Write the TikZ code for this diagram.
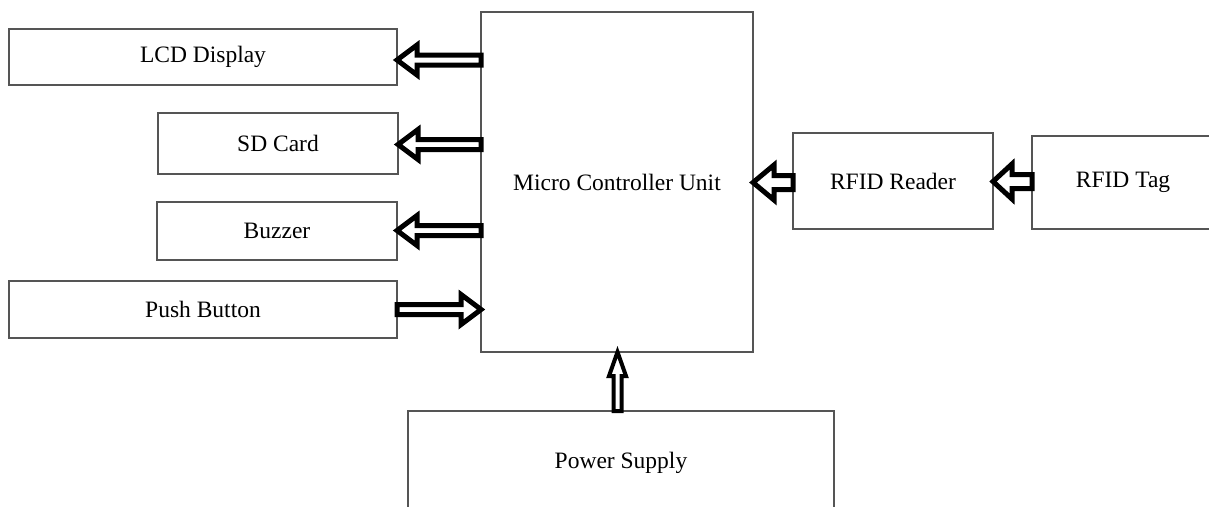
\documentclass[tikz,border=0pt]{standalone}
\usepackage{fontspec}
\setmainfont{Liberation Serif}
\usetikzlibrary{calc}
\definecolor{boxgray}{RGB}{85,85,85}
\tikzset{
  blk/.style={draw=boxgray, line width=2pt, fill=white, inner sep=0pt, outer sep=0pt,
    anchor=north west, font=\fontsize{23.5}{28}\selectfont},
  hollow/.style={draw=black, line width=5pt, fill=white, line join=miter},
}
% horizontal hollow arrow: #1 tip, #2 tail, #3 shaft half, #4 head half, #5 signed head length
\newcommand\harr[5]{\draw[hollow] let \p1=(#1), \p2=(#2), \n1={#5*1pt} in
  (\x1,\y1) -- ({\x1+\n1},{\y1+#4pt}) -- ({\x1+\n1},{\y1+#3pt}) -- (\x2,{\y1+#3pt})
  -- (\x2,{\y1-#3pt}) -- ({\x1+\n1},{\y1-#3pt}) -- ({\x1+\n1},{\y1-#4pt}) -- cycle;}
% vertical hollow arrow
\newcommand\varr[5]{\draw[hollow, line width=4pt] let \p1=(#1), \p2=(#2), \n1={#5*1pt} in
  (\x1,\y1) -- ({\x1+#4pt},{\y1+\n1}) -- ({\x1+#3pt},{\y1+\n1}) -- ({\x1+#3pt},\y2)
  -- ({\x1-#3pt},\y2) -- ({\x1-#3pt},{\y1+\n1}) -- ({\x1-#4pt},{\y1+\n1}) -- cycle;}
\begin{document}
\begin{tikzpicture}[x=1pt,y=-1pt]
\useasboundingbox (0,0) rectangle (1209,506);
\node[blk, minimum width=388, minimum height=56] (lcd) at (9,29) {LCD Display};
\node[blk, minimum width=240, minimum height=61] (sd) at (158,113) {SD Card};
\node[blk, minimum width=240, minimum height=58] (buz) at (157,202) {Buzzer};
\node[blk, minimum width=388, minimum height=57] (pb) at (9,281) {Push Button};
\node[blk, minimum width=272, minimum height=340] (mcu) at (481,12) {Micro Controller Unit};
\node[blk, minimum width=200, minimum height=96] (rdr) at (793,133) {RFID Reader};
\node[blk, minimum width=182, minimum height=93] (tag) at (1032,136) {RFID Tag};
\node[blk, minimum width=426, minimum height=103] (pwr) at (408,411) {Power Supply};

\coordinate (ylcd) at (0,60);
\coordinate (ysd) at (0,144.5);
\coordinate (ybuz) at (0,230.5);
\coordinate (ypb) at (0,309.5);
\coordinate (yrdr) at (0,182.5);
\coordinate (ytag) at (0,181.5);
\coordinate (xpwr) at (617.5,0);

\harr{lcd.east |- ylcd}{mcu.west |- ylcd}{5}{15}{20}
\harr{sd.east |- ysd}{mcu.west |- ysd}{5}{15}{20}
\harr{buz.east |- ybuz}{mcu.west |- ybuz}{5}{15}{20}
\harr{mcu.west |- ypb}{pb.east |- ypb}{5}{15}{-20}
\harr{mcu.east |- yrdr}{rdr.west |- yrdr}{7}{17.5}{21}
\harr{rdr.east |- ytag}{tag.west |- ytag}{7}{17.5}{19}
\varr{mcu.south -| xpwr}{pwr.north -| xpwr}{4}{8.5}{-24}
\end{tikzpicture}
\end{document}
